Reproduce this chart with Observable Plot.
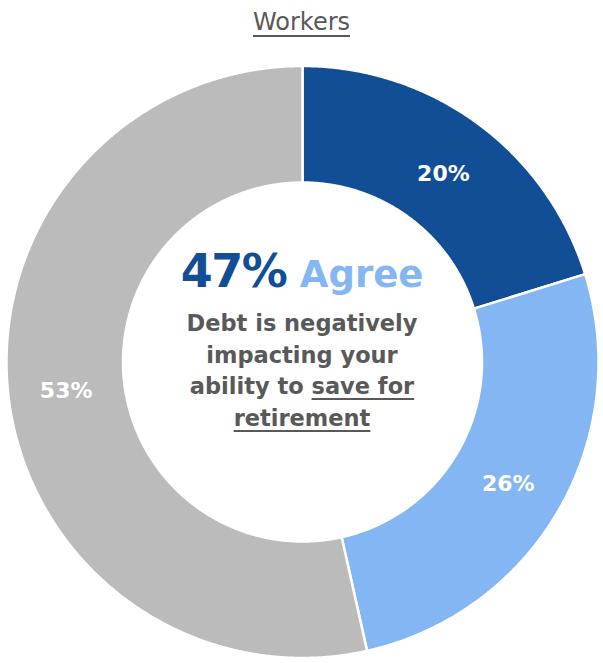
<!DOCTYPE html>
<html>
<head>
<meta charset="utf-8">
<script src="https://cdn.jsdelivr.net/npm/d3@7"></script>
<script src="https://cdn.jsdelivr.net/npm/@observablehq/plot@0.6"></script>
<style>
  html, body { margin: 0; padding: 0; background: #fff; }
  #wrap { position: relative; width: 603px; height: 663px; font-family: "DejaVu Sans", sans-serif; }
  #title { position: absolute; left: 0; top: 9px; width: 603px; text-align: center; font-size: 24px; line-height: 26px; color: #595959; }
  #title span { text-decoration: underline; text-underline-offset: 5px; text-decoration-thickness: 1.5px; }
  #chart { position: absolute; left: 0; top: 50px; }
  #center { position: absolute; left: 102px; width: 400px; top: 242px; text-align: center; font-weight: bold; }
  #headline { white-space: nowrap; line-height: 58px; }
  #big { color: #114E96; font-size: 46px; letter-spacing: -1.5px; }
  #agree { color: #84B6F4; font-size: 37px; margin-left: 8px; }
  #desc { color: #595959; font-size: 22.5px; line-height: 31.5px; margin-top: -3px; }
  #desc u { text-underline-offset: 4px; text-decoration-thickness: 2px; }
</style>
</head>
<body>
<div id="wrap">
  <div id="title"></div>
  <div id="chart"></div>
  <div id="center"></div>
</div>
<script>
// ---- data ----
const titleText = "Workers";
const sliceLabels = ["20%", "26%", "53%"];
const sliceValues = [20.2, 26.3, 53.5];
const sliceColors = ["#114E96", "#84B6F4", "#BBBBBB"];
const headlineValue = "47%";
const headlineWord = "Agree";
const descLines = ["Debt is negatively", "impacting your", "ability to ", "save for", "retirement"];

// ---- build ----
const rows = sliceLabels.map((label, i) => ({label, value: sliceValues[i]}));
const arcs = d3.pie().sort(null).value(d => d.value)(rows);
const R = 1, r0 = 179.5 / 296;

function ring(a0, a1) {
  const n = Math.max(2, Math.ceil((a1 - a0) / 0.005));
  const angles = d3.range(n + 1).map(i => a0 + (a1 - a0) * i / n);
  const outer = angles.map(a => [R * Math.sin(a), R * Math.cos(a)]);
  const inner = angles.slice().reverse().map(a => [r0 * Math.sin(a), r0 * Math.cos(a)]);
  return [...outer, ...inner, outer[0]];
}

const features = arcs.map(a => ({
  type: "Feature",
  properties: {label: a.data.label, mid: (a.startAngle + a.endAngle) / 2},
  geometry: {type: "Polygon", coordinates: [ring(a.startAngle, a.endAngle)]}
}));
const labelRadius = (R + r0) / 2;

const domain = {type: "MultiPoint", coordinates: [[-1, -1], [1, 1]]};

const svgH = 613;
const plot = Plot.plot({
  width: 603,
  height: svgH,
  marginLeft: 6,
  marginRight: 5,
  marginTop: 15.5,
  marginBottom: 5.5,
  projection: {type: "reflect-y", domain, clip: false},
  color: {domain: sliceLabels, range: sliceColors},
  marks: [
    Plot.geo(features, {fill: d => d.properties.label, stroke: "white", strokeWidth: 2.5}),
    Plot.text(features, {
      x: d => labelRadius * Math.sin(d.properties.mid),
      y: d => labelRadius * Math.cos(d.properties.mid),
      text: d => d.properties.label,
      fill: "white",
      fontSize: 22,
      fontWeight: "bold",
      dy: 3,
      fontFamily: "DejaVu Sans, sans-serif"
    })
  ]
});
document.getElementById("chart").appendChild(plot);

document.getElementById("title").innerHTML = `<span>${titleText}</span>`;
document.getElementById("center").innerHTML =
  `<div id="headline"><span id="big">${headlineValue}</span> <span id="agree">${headlineWord}</span></div>` +
  `<div id="desc">${descLines[0]}<br>${descLines[1]}<br>${descLines[2]}<u>${descLines[3]}</u><br><u>${descLines[4]}</u></div>`;
</script>
</body>
</html>
